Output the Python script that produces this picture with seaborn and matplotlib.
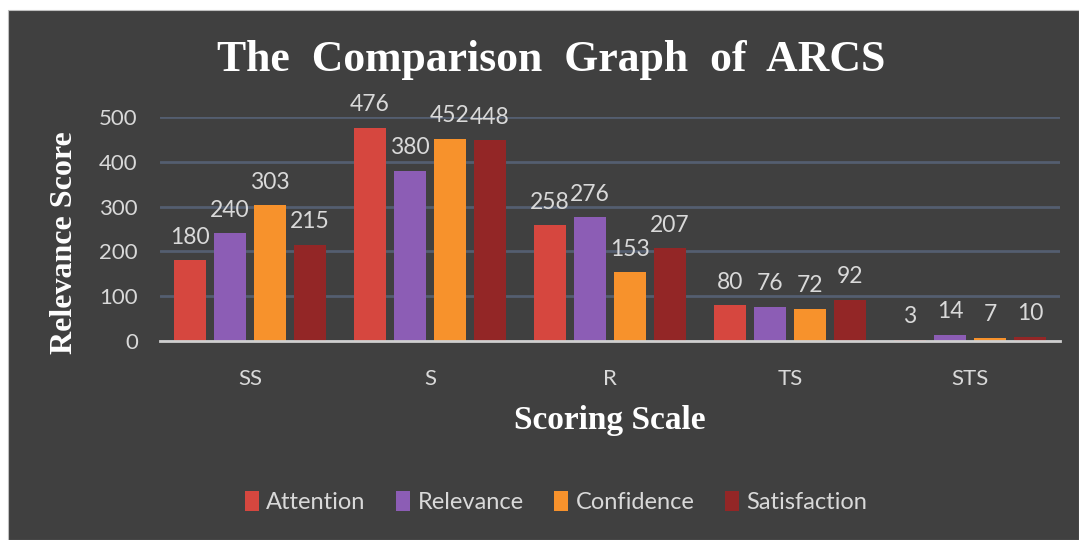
import matplotlib
matplotlib.use("Agg")
import matplotlib.pyplot as plt
import seaborn as sns
import pandas as pd
from matplotlib.patches import Rectangle

categories = ["SS", "S", "R", "TS", "STS"]
attention = [180, 476, 258, 80, 3]
relevance = [240, 380, 276, 76, 14]
confidence = [303, 452, 153, 72, 7]
satisfaction = [215, 448, 207, 92, 10]
series_names = ["Attention", "Relevance", "Confidence", "Satisfaction"]
yticks = [0, 100, 200, 300, 400, 500]

colors = ["#d6473f", "#8c5db5", "#f7922c", "#932626"]
BG = "#404040"
TXT = "#d9d9d9"

rows = []
for name, vals in zip(series_names, [attention, relevance, confidence, satisfaction]):
    for c, v in zip(categories, vals):
        rows.append({"Scale": c, "Aspect": name, "Score": v})
df = pd.DataFrame(rows)

sns.set_theme(style="dark")
plt.rcParams["font.family"] = ["Lato", "DejaVu Sans"]

fig = plt.figure(figsize=(10.79, 5.40), dpi=100, facecolor="white")
fig.patches.append(Rectangle((8 / 1079, 0), 1 - 8 / 1079, 1 - 10 / 540,
                             transform=fig.transFigure, facecolor=BG,
                             edgecolor="#bfbfbf", linewidth=0.8, zorder=-10))

ax = fig.add_axes([160 / 1079, (540 - 341) / 540, 900 / 1079, 224 / 540])
ax.set_facecolor("none")

sns.barplot(data=df, x="Scale", y="Score", hue="Aspect", order=categories,
            hue_order=series_names, palette=colors, saturation=1,
            width=0.89, gap=0.2, ax=ax, legend=True, linewidth=0,
            edgecolor="none")

ax.set_ylim(0, 500)
ax.set_yticks(yticks)
ax.yaxis.grid(True, color="#545e70", linewidth=2)
ax.xaxis.grid(False)
ax.set_axisbelow(True)
for s in ["top", "right", "left"]:
    ax.spines[s].set_visible(False)
ax.spines["bottom"].set_color("#cfcfcf")
ax.spines["bottom"].set_linewidth(2)
ax.tick_params(axis="both", length=0, colors=TXT, labelsize=16)
ax.tick_params(axis="x", pad=20)
ax.tick_params(axis="y", pad=16)

for cont in ax.containers:
    ax.bar_label(cont, padding=9, fontsize=16.5, color=TXT, clip_on=False)

ax.set_xlabel("Scoring Scale", family="Liberation Serif", fontweight="bold",
              fontsize=24, color="white", labelpad=12)
ax.set_ylabel("Relevance Score", family="Liberation Serif", fontweight="bold",
              fontsize=23, color="white")
ax.yaxis.set_label_coords(-81 / 900, 0.44)

fig.text(551 / 1079, (540 - 60) / 540, "The  Comparison  Graph  of  ARCS",
         family="Liberation Serif", fontweight="bold", fontsize=31.5,
         color="white", ha="center", va="center")

leg = ax.get_legend()
handles = leg.legend_handles
leg.remove()
fig.legend(handles, series_names, loc="center", bbox_to_anchor=(556 / 1079, (540 - 502) / 540),
           ncol=4, frameon=False, fontsize=17, labelcolor=TXT,
           handlelength=0.6, handleheight=0.9, handletextpad=0.3, columnspacing=1.3)

fig.savefig("out.png", dpi=100, facecolor=fig.get_facecolor())
